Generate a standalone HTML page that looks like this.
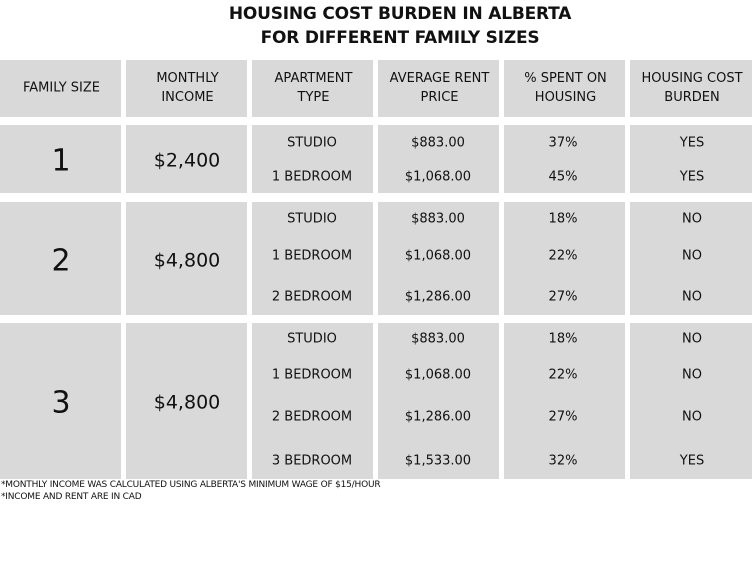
<!DOCTYPE html>
<html><head><meta charset="utf-8"><style>
body{margin:0;width:752px;height:569px;background:#fff;position:relative;overflow:hidden;font-family:"DejaVu Sans","Liberation Sans",sans-serif;color:#111}
.c{position:absolute;background:#d9d9d9}
.t{position:absolute;transform:translate(-50%,-50%);white-space:nowrap;font-size:13px;text-align:center;line-height:19px}
h1{position:absolute;left:0;width:800px;top:2px;margin:0;text-align:center;font-size:17px;font-weight:bold;line-height:24px;letter-spacing:-0.2px}
.big{font-size:30px}.mid{font-size:19px}
.fn{position:absolute;left:1px;font-size:9px;white-space:nowrap;letter-spacing:-0.2px}
</style></head><body>
<h1>HOUSING COST BURDEN IN ALBERTA<br>FOR DIFFERENT FAMILY SIZES</h1>
<div id="tbl"></div>
<div class="fn" style="top:480px">*MONTHLY INCOME WAS CALCULATED USING ALBERTA'S MINIMUM WAGE OF $15/HOUR</div>
<div class="fn" style="top:492px">*INCOME AND RENT ARE IN CAD</div>
<script>
const colX=[[0,121],[126,247],[252,373],[378,499],[504,625],[630,752]];
const headers=["FAMILY SIZE","MONTHLY<br>INCOME","APARTMENT<br>TYPE","AVERAGE RENT<br>PRICE","% SPENT ON<br>HOUSING","HOUSING COST<br>BURDEN"];
const groups=[[125,193],[202,315],[323,479]];
const sizes=["1","2","3"];
const incomes=["$2,400","$4,800","$4,800"];
const rowY=[[143,177],[219,256,297],[339,375,417,461]];
const apts=[["STUDIO","1 BEDROOM"],["STUDIO","1 BEDROOM","2 BEDROOM"],["STUDIO","1 BEDROOM","2 BEDROOM","3 BEDROOM"]];
const rents=[["$883.00","$1,068.00"],["$883.00","$1,068.00","$1,286.00"],["$883.00","$1,068.00","$1,286.00","$1,533.00"]];
const pcts=[["37%","45%"],["18%","22%","27%"],["18%","22%","27%","32%"]];
const burden=[["YES","YES"],["NO","NO","NO"],["NO","NO","NO","YES"]];
const tbl=document.getElementById('tbl');
function cell(x0,x1,y0,y1){const d=document.createElement('div');d.className='c';
d.style.left=x0+'px';d.style.width=(x1-x0)+'px';d.style.top=y0+'px';d.style.height=(y1-y0)+'px';


tbl.appendChild(d);}
function text(s,cx,cy,cls,name){const d=document.createElement('div');d.className='t '+(cls||'');
d.innerHTML=s;d.style.left=cx+'px';d.style.top=cy+'px';


tbl.appendChild(d);}
colX.forEach((c,i)=>{cell(c[0],c[1],60,117);text(headers[i],(c[0]+c[1])/2+1,88,'', 'column-header');});
groups.forEach((g,gi)=>{
 colX.forEach(c=>cell(c[0],c[1],g[0],g[1]));
 const mid=(g[0]+g[1])/2;
 text(sizes[gi],61,mid+2,'big','family-size');
 text(incomes[gi],187,mid+2,'mid','monthly-income');
 rowY[gi].forEach((y,ri)=>{
  text(apts[gi][ri],312,y,'','apartment-type');
  text(rents[gi][ri],438,y,'','average-rent');
  text(pcts[gi][ri],563,y,'','percent-spent');
  text(burden[gi][ri],692,y,'','cost-burden');
 });
});
</script>
</body></html>
